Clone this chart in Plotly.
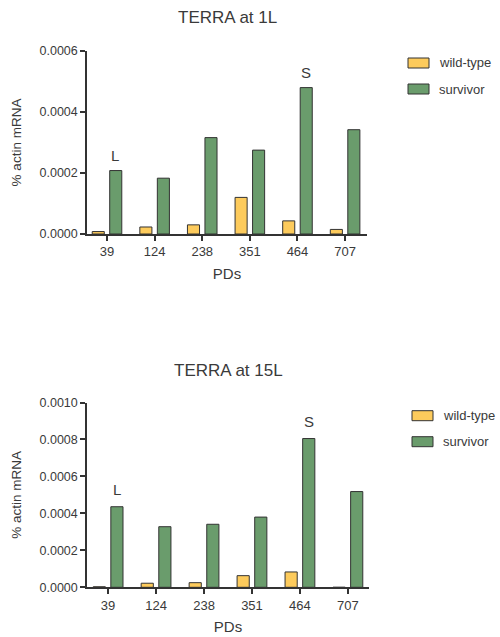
import plotly.graph_objects as go

categories = ["39", "124", "238", "351", "464", "707"]
wt_1L = [0.000008, 0.000023, 0.00003, 0.00012, 0.000043, 0.000015]
surv_1L = [0.000208, 0.000183, 0.000316, 0.000275, 0.00048, 0.000342]
wt_15L = [0.000003, 0.000022, 0.000025, 0.000063, 0.000083, 0.0]
surv_15L = [0.000436, 0.000328, 0.000341, 0.00038, 0.000805, 0.000518]
yticks_1L = [0, 0.0002, 0.0004, 0.0006]
yticks_15L = [0, 0.0002, 0.0004, 0.0006, 0.0008, 0.0010]

W, H = 500, 637
WT_COLOR = "#FDCB5C"
SV_COLOR = "#6A9C6C"
LINE = "#333333"
TXT = "#3a3a3a"
FONT = "Liberation Sans, Arial, sans-serif"

def px(x):
    return x / W

def py(y):
    return (H - y) / H

fig = go.Figure()
bar_line = dict(color=LINE, width=1)
fig.add_trace(go.Bar(x=categories, y=wt_1L, name="wild-type", marker=dict(color=WT_COLOR, line=bar_line),
                     xaxis="x", yaxis="y", showlegend=False))
fig.add_trace(go.Bar(x=categories, y=surv_1L, name="survivor", marker=dict(color=SV_COLOR, line=bar_line),
                     xaxis="x", yaxis="y", showlegend=False))
fig.add_trace(go.Bar(x=categories, y=wt_15L, name="wild-type", marker=dict(color=WT_COLOR, line=bar_line),
                     xaxis="x2", yaxis="y2", showlegend=False))
fig.add_trace(go.Bar(x=categories, y=surv_15L, name="survivor", marker=dict(color=SV_COLOR, line=bar_line),
                     xaxis="x2", yaxis="y2", showlegend=False))

xcommon = dict(type="category", showline=True, linecolor=LINE, linewidth=1.5, ticks="outside",
               ticklen=5, tickwidth=1.5, tickcolor=LINE, showgrid=False, zeroline=False, automargin=False,
               tickfont=dict(family=FONT, size=13, color=TXT),
               title=dict(text="PDs", font=dict(family=FONT, size=15, color=TXT), standoff=10))
ycommon = dict(showline=True, linecolor=LINE, linewidth=1.5, ticks="outside", ticklen=5, automargin=False,
               tickwidth=1.5, tickcolor=LINE, showgrid=False, zeroline=False, tickformat=".4f",
               tickfont=dict(family=FONT, size=12.5, color=TXT),
               title=dict(text="% actin mRNA", font=dict(family=FONT, size=13.5, color=TXT), standoff=15))

fig.update_layout(
    width=W, height=H, margin=dict(l=0, r=0, t=0, b=0, autoexpand=False),
    paper_bgcolor="white", plot_bgcolor="white",
    barmode="group", bargap=0.265, bargroupgap=0.31,
    xaxis=dict(**xcommon, domain=[px(87), px(367)], anchor="y", range=[-0.42, 5.46]),
    yaxis=dict(**ycommon, domain=[py(234), py(51)], anchor="x", range=[0, 0.0006], tickvals=yticks_1L),
    xaxis2=dict(**xcommon, domain=[px(87), px(369)], anchor="y2", range=[-0.44, 5.44]),
    yaxis2=dict(**ycommon, domain=[py(587.3), py(402.5)], anchor="x2", range=[0, 0.001], tickvals=yticks_15L),
    font=dict(family=FONT, color=TXT),
)

annotations = []
# titles
annotations.append(dict(text="TERRA at 1L", x=px(227), y=py(18), xref="paper", yref="paper",
                        xanchor="center", yanchor="middle",
                        showarrow=False, font=dict(family=FONT, size=17, color=TXT)))
annotations.append(dict(text="TERRA at 15L", x=px(228), y=py(370), xref="paper", yref="paper",
                        xanchor="center", yanchor="middle",
                        showarrow=False, font=dict(family=FONT, size=17, color=TXT)))
# L / S labels (category index positions)
annotations.append(dict(text="L", x=0, y=surv_1L[0], xref="x", yref="y", xshift=8, yshift=15,
                        showarrow=False, font=dict(family=FONT, size=15, color=TXT)))
annotations.append(dict(text="S", x=4, y=surv_1L[4], xref="x", yref="y", xshift=9, yshift=15,
                        showarrow=False, font=dict(family=FONT, size=15, color=TXT)))
annotations.append(dict(text="L", x=0, y=surv_15L[0], xref="x2", yref="y2", xshift=9, yshift=17,
                        showarrow=False, font=dict(family=FONT, size=15, color=TXT)))
annotations.append(dict(text="S", x=4, y=surv_15L[4], xref="x2", yref="y2", xshift=9, yshift=17,
                        showarrow=False, font=dict(family=FONT, size=15, color=TXT)))

shapes = []
def legend(x0, yc1, yc2, tx, size):
    for yc, col, name in [(yc1, WT_COLOR, "wild-type"), (yc2, SV_COLOR, "survivor")]:
        shapes.append(dict(type="rect", xref="paper", yref="paper", x0=px(x0), x1=px(x0 + 21),
                           y0=py(yc + 5), y1=py(yc - 5), fillcolor=col, line=dict(color=LINE, width=1)))
        annotations.append(dict(text=name, x=px(tx), y=py(yc), xref="paper", yref="paper",
                                xanchor="left", yanchor="middle", showarrow=False,
                                font=dict(family=FONT, size=size, color=TXT)))

legend(408, 63, 89, 437, 13)
legend(412, 415.7, 441.7, 441, 13)

fig.update_layout(annotations=annotations, shapes=shapes)
fig.write_html("out.html", config={"displayModeBar": False},
               post_script="document.body.style.margin='0';document.body.style.overflow='hidden';")
